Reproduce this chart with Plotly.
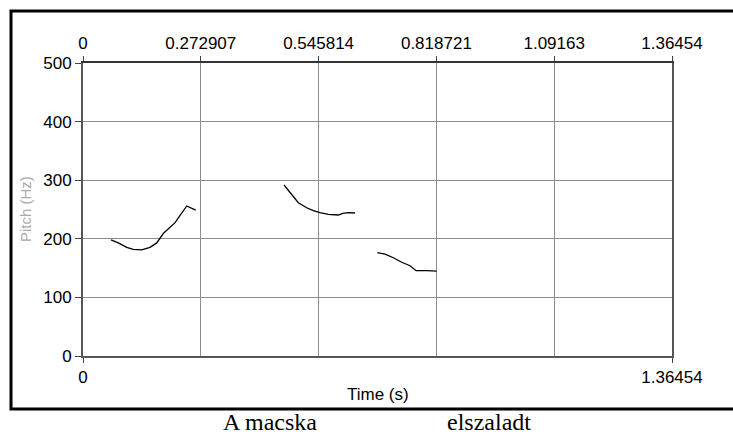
import plotly.graph_objects as go

# Pitch contour segments (time in s, F0 in Hz)
seg1_t = [0.0649, 0.0818, 0.1013, 0.1165, 0.1360, 0.1552, 0.1708, 0.1860, 0.2132, 0.2300, 0.2403, 0.2611]
seg1_f = [198, 193, 185.5, 182, 181, 185.5, 193, 209, 227.5, 246, 256, 249]

seg2_t = [0.4657, 0.4812, 0.4988, 0.5183, 0.5336, 0.5491, 0.5683, 0.5915, 0.6017, 0.6147, 0.6302]
seg2_f = [291.8, 277.6, 261.6, 253, 248, 244.5, 241.8, 240.6, 243.5, 244.5, 244]

seg3_t = [0.6819, 0.6997, 0.7190, 0.7384, 0.7577, 0.7716, 0.7963, 0.8195]
seg3_f = [176.3, 174, 167.7, 160, 154, 145.6, 145.6, 145]

t_end = 1.36454
top_ticks = [0, 0.272907, 0.545814, 0.818721, 1.09163, 1.36454]
top_labels = ["0", "0.272907", "0.545814", "0.818721", "1.09163", "1.36454"]
y_ticks = [0, 100, 200, 300, 400, 500]
words = ["A macska", "elszaladt"]

W, H = 733, 437
L, R, T, B = 83, 61, 63, 81
pw, ph = W - L - R, H - T - B

def px_x(p):
    return (p - L) / pw

def px_y(p):
    return (H - B - p) / ph

fig = go.Figure()
for t, f in [(seg1_t, seg1_f), (seg2_t, seg2_f), (seg3_t, seg3_f)]:
    fig.add_trace(go.Scatter(x=t, y=f, mode="lines",
                             line=dict(color="black", width=1.3),
                             showlegend=False, hoverinfo="skip"))
# invisible trace to drive the top axis
fig.add_trace(go.Scatter(x=[0, t_end], y=[0, 0], xaxis="x2", mode="markers",
                         marker=dict(opacity=0), showlegend=False, hoverinfo="skip"))

font = dict(family="Liberation Sans, Arial, sans-serif", size=17, color="black")
grid = "#8c8c8c"

fig.update_layout(
    width=W, height=H,
    margin=dict(l=L, r=R, t=T, b=B),
    paper_bgcolor="white", plot_bgcolor="white",
    font=font,
    xaxis=dict(range=[0, t_end], tickvals=[0, t_end], ticktext=["0", "1.36454"],
               ticks="outside", ticklen=5, tickcolor="#444",
               showgrid=False, zeroline=False,
               showline=True, linecolor="#555", linewidth=2, mirror=False,
               tickfont=font),
    xaxis2=dict(range=[0, t_end], overlaying="x", side="top",
                tickvals=top_ticks, ticktext=top_labels,
                ticks="outside", ticklen=5, tickcolor="#444",
                showgrid=True, gridcolor=grid, gridwidth=1,
                zeroline=False, showline=True, linecolor="#333", linewidth=2,
                tickfont=font),
    yaxis=dict(range=[0, 500], tickvals=y_ticks,
               ticks="outside", ticklen=6, tickcolor="#444",
               showgrid=True, gridcolor=grid, gridwidth=1,
               zeroline=False, showline=True, linecolor="#555", linewidth=2,
               mirror=True, tickfont=font),
)

# outer frame (right edge runs off the page)
fig.add_shape(type="rect", xref="paper", yref="paper",
              x0=px_x(11), x1=px_x(760), y0=px_y(409), y1=px_y(11),
              line=dict(color="black", width=3), fillcolor="rgba(0,0,0,0)",
              layer="below")

fig.add_annotation(text="Time (s)", xref="paper", yref="paper",
                   x=0.5, y=px_y(394), showarrow=False, font=font,
                   xanchor="center", yanchor="middle")
fig.add_annotation(text="Pitch (Hz)", xref="paper", yref="paper",
                   x=px_x(25), y=px_y(209), showarrow=False, textangle=-90,
                   font=dict(family="Liberation Sans, Arial, sans-serif", size=15, color="#aaaaaa"),
                   xanchor="center", yanchor="middle")

serif = dict(family="Liberation Serif, Times New Roman, serif", size=24, color="black")
fig.add_annotation(text=words[0], xref="paper", yref="paper",
                   x=px_x(270), y=px_y(422), showarrow=False, font=serif,
                   xanchor="center", yanchor="middle")
fig.add_annotation(text=words[1], xref="paper", yref="paper",
                   x=px_x(445), y=px_y(422), showarrow=False, font=serif,
                   xanchor="left", yanchor="middle")

fig.write_html("out.html")
